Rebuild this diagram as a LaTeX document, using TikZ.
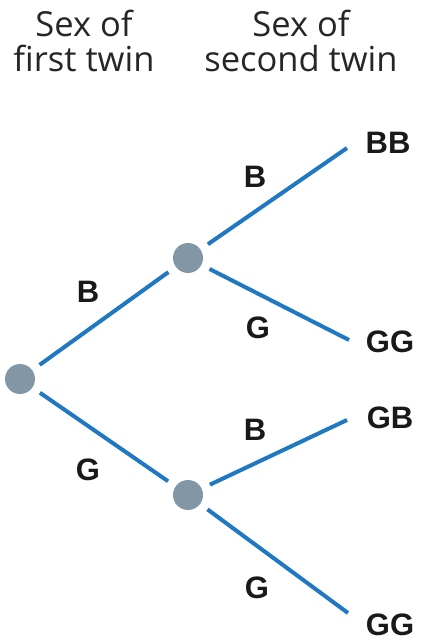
\documentclass[tikz,border=0pt]{standalone}
\usepackage{fontspec}
\setmainfont{Open Sans}
\newfontfamily\labfont{Liberation Sans}
\definecolor{branch}{HTML}{1F78C1}
\definecolor{dot}{HTML}{8197A6}
\begin{document}
\begin{tikzpicture}[x=1pt,y=-1pt,
  chance/.style={circle,fill=dot,draw=none,minimum size=30pt,inner sep=0pt},
  edge/.style={draw=branch,line width=4pt,shorten <=9pt},
  lab/.style={font=\labfont\bfseries\fontsize{31}{34}\selectfont,inner sep=0pt,text=black!90},
  head/.style={font=\fontsize{34.5}{35}\selectfont,inner sep=0pt,align=center,text=black!85}]
\useasboundingbox (0,0) rectangle (422,644);
\node[head,anchor=base] (h1) at (84,72) {Sex of\\first twin};
\node[head,anchor=base] (h2) at (301,72) {Sex of\\second twin};
\node[chance] (r) at (20,379) {};
\node[chance] (m1) at (188,258) {};
\node[chance] (m2) at (188,495) {};
\coordinate (e1) at (347,148);
\coordinate (e2) at (349,340);
\coordinate (e3) at (347,420);
\coordinate (e4) at (348,613);
\draw[edge,shorten >=9pt] (r) -- (m1);
\draw[edge,shorten >=9pt] (r) -- (m2);
\draw[edge] (m1) -- (e1);
\draw[edge] (m1) -- (e2);
\draw[edge] (m2) -- (e3);
\draw[edge] (m2) -- (e4);
\node[lab] (lb1) at (88,292) {B};
\node[lab] (lg1) at (88,470) {G};
\node[lab] (lb2) at (255,177) {B};
\node[lab] (lg2) at (258,328) {G};
\node[lab] (lb3) at (255,430) {B};
\node[lab] (lg3) at (257,588) {G};
\node[lab] (o1) at (388,143) {BB};
\node[lab] (o2) at (390,342) {GG};
\node[lab] (o3) at (390,418) {GB};
\node[lab] (o4) at (390,625) {GG};
\end{tikzpicture}
\end{document}
